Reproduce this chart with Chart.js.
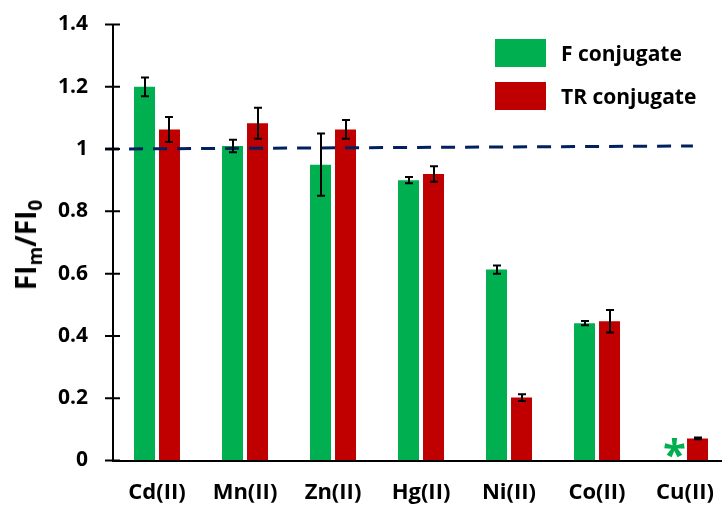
<!DOCTYPE html>
<html>
<head>
<meta charset="utf-8">
<script src="https://cdn.jsdelivr.net/npm/chart.js@4.4.0/dist/chart.umd.min.js"></script>
<style>
    html, body { margin: 0; padding: 0; overflow: hidden; background: #fff; }
    #wrap { position: relative; width: 733px; height: 508px; }
    .legend-item { position: absolute; left: 495px; height: 28px; display: flex; align-items: center; }
    .legend-box { width: 51px; height: 28px; margin-right: 15px; }
    .legend-text { font: bold 21px "Open Sans", sans-serif; color: #000; white-space: nowrap; }
    #ytitle {
        position: absolute; left: 25px; top: 245px;
        transform: translate(-50%, -50%) rotate(-90deg);
        font: bold 28px "Open Sans", sans-serif; color: #000; white-space: nowrap;
    }
    #ytitle sub { font-size: 19px; vertical-align: -6px; line-height: 0; }
</style>
</head>
<body>
<div id="wrap">
    <canvas id="chart"></canvas>
    <div id="ytitle">FI<sub>m</sub>/FI<sub>0</sub></div>
    <div class="legend-item" style="top:39px"><div class="legend-box" style="background:#00B050"></div><span class="legend-text">F conjugate</span></div>
    <div class="legend-item" style="top:82px"><div class="legend-box" style="background:#C00000"></div><span class="legend-text">TR conjugate</span></div>
</div>
<script>
// Data
const categories = ['Cd(II)', 'Mn(II)', 'Zn(II)', 'Hg(II)', 'Ni(II)', 'Co(II)', 'Cu(II)'];
const fValues   = [1.20, 1.01, 0.95, 0.90, 0.613, 0.441, null];
const fErrors   = [0.03, 0.02, 0.10, 0.01, 0.013, 0.007, 0];
const trValues  = [1.063, 1.083, 1.063, 0.92, 0.202, 0.447, 0.071];
const trErrors  = [0.04, 0.05, 0.03, 0.025, 0.011, 0.036, 0.003];
const fMarks    = ['', '', '', '', '', '', '*'];   // Cu(II): F conjugate marked with an asterisk

// dashed reference line, x in category index units
const refLineX = [-0.59, 6.09];
const refLineY = [1.0, 1.01];

const green = '#00B050';
const red = '#C00000';
const font = '"Open Sans", sans-serif';

// reference line, error bars, asterisk and the y axis with crossing ticks
const overlays = {
    id: 'overlays',
    afterDraw(chart) {
        const ctx = chart.ctx;
        const xs = chart.scales.x;
        const y = chart.scales.y;
        ctx.save();

        // dashed line
        ctx.strokeStyle = '#002060';
        ctx.lineWidth = 3;
        ctx.setLineDash([14, 10]);
        ctx.beginPath();
        ctx.moveTo(xs.getPixelForValue(refLineX[0]), y.getPixelForValue(refLineY[0]));
        ctx.lineTo(xs.getPixelForValue(refLineX[1]), y.getPixelForValue(refLineY[1]));
        ctx.stroke();
        ctx.setLineDash([]);

        // error bars
        ctx.strokeStyle = '#000';
        ctx.lineWidth = 2;
        const sets = [[0, fValues, fErrors], [1, trValues, trErrors]];
        sets.forEach(([di, vals, errs]) => {
            const meta = chart.getDatasetMeta(di);
            meta.data.forEach((bar, i) => {
                if (vals[i] == null || !errs[i]) return;
                const x = Math.round(bar.x);
                const yt = y.getPixelForValue(vals[i] + errs[i]);
                const yb = y.getPixelForValue(vals[i] - errs[i]);
                ctx.beginPath();
                ctx.moveTo(x, yt); ctx.lineTo(x, yb);
                ctx.moveTo(x - 4, yt); ctx.lineTo(x + 4, yt);
                ctx.moveTo(x - 4, yb); ctx.lineTo(x + 4, yb);
                ctx.stroke();
            });
        });

        // asterisk marks
        const meta0 = chart.getDatasetMeta(0);
        ctx.fillStyle = green;
        ctx.font = 'bold 42px ' + font;
        ctx.textAlign = 'center';
        ctx.textBaseline = 'alphabetic';
        fMarks.forEach((m, i) => {
            if (!m) return;
            ctx.fillText(m, meta0.data[i].x + 2, y.getPixelForValue(0) + 8);
        });

        // y axis line + tick marks crossing it, drawn last
        const ax = chart.chartArea.left;
        const top = chart.chartArea.top;
        const bottom = chart.chartArea.bottom;
        ctx.strokeStyle = '#000';
        ctx.lineWidth = 2;
        ctx.beginPath();
        ctx.moveTo(ax, top - 1);
        ctx.lineTo(ax, bottom + 1);
        y.ticks.forEach(t => {
            const ty = y.getPixelForValue(t.value);
            ctx.moveTo(ax - 8, ty);
            ctx.lineTo(ax + 7, ty);
        });
        ctx.stroke();
        ctx.restore();
    }
};

new Chart(document.getElementById('chart'), {
    type: 'bar',
    data: {
        labels: categories,
        datasets: [
            {
                label: 'F conjugate',
                data: fValues,
                backgroundColor: green,
                barPercentage: 0.84,
                categoryPercentage: 0.568
            },
            {
                label: 'TR conjugate',
                data: trValues,
                backgroundColor: red,
                barPercentage: 0.84,
                categoryPercentage: 0.568
            }
        ]
    },
    options: {
        responsive: true,
        maintainAspectRatio: false,
        animation: false,
        layout: { padding: { top: 24.5, right: 0, bottom: 0, left: 0 } },
        plugins: {
            legend: { display: false },
            tooltip: { enabled: false }
        },
        scales: {
            x: {
                type: 'category',
                offset: true,
                grid: { display: true, drawOnChartArea: false, drawTicks: false },
                border: { display: true, color: '#000', width: 2 },
                ticks: {
                    color: '#000',
                    padding: 19,
                    font: { family: font, size: 22, weight: 'bold' }
                },
                afterFit: (axis) => { axis.height = 47.5; }
            },
            y: {
                min: 0,
                max: 1.4,
                ticks: {
                    stepSize: 0.2,
                    color: '#000',
                    padding: 0,
                    font: { family: font, size: 21, weight: 'bold' },
                    callback: (v) => String(Number(v.toFixed(1)))
                },
                grid: {
                    drawOnChartArea: false,
                    drawTicks: true,
                    tickLength: 25,
                    tickColor: 'rgba(0,0,0,0)'
                },
                border: { display: true, color: '#000', width: 2 },
                afterFit: (axis) => { axis.width = 113; }
            }
        }
    },
    plugins: [overlays]
});
</script>
</body>
</html>
